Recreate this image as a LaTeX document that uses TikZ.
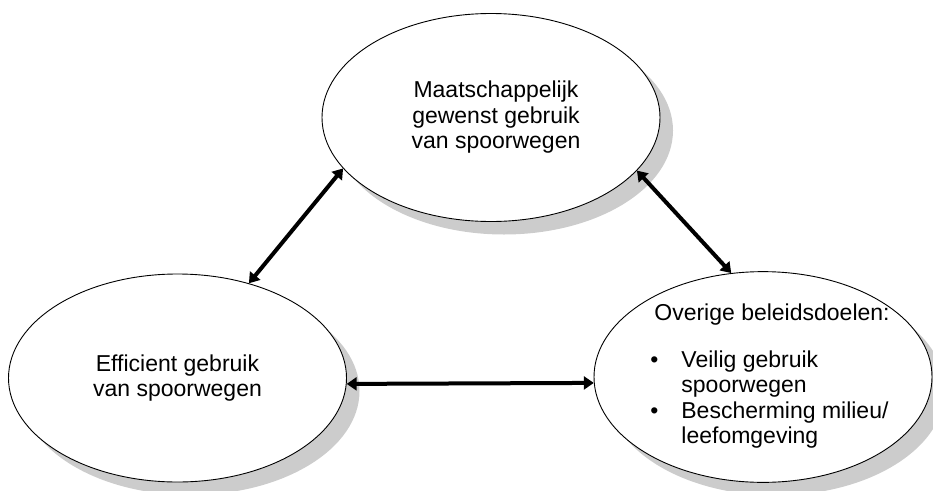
\documentclass[tikz,border=0pt]{standalone}
\usepackage{fontspec}
\setmainfont{Liberation Sans}
\usepackage{xcolor}
\usepackage{tikz}
\usetikzlibrary{arrows.meta,shapes.geometric,shadows}
\definecolor{spShadow}{HTML}{CCCCCC}
\definecolor{spLine}{HTML}{000000}
\tikzset{
  goalellipse/.style={ellipse,draw=spLine,fill=white,line width=0.9pt,
    minimum width=338pt,minimum height=208pt,inner sep=0pt,align=center,
    font=\fontsize{23}{25.5}\selectfont,
    drop shadow={shadow xshift=13pt,shadow yshift=-13pt,fill=spShadow,opacity=1}},
  link/.style={{Triangle[length=10pt,width=13pt]}-{Triangle[length=10pt,width=13pt]},
    line width=4pt,draw=spLine}
}

\begin{document}
\begin{tikzpicture}[x=1pt,y=-1pt]
  \useasboundingbox (0,0) rectangle (933,490);
  \node[goalellipse] (maat) at (491,117.5) {\hspace*{10pt}Maatschappelijk\\\hspace*{10pt}gewenst gebruik\\\hspace*{10pt}van spoorwegen};
  \node[goalellipse] (eff) at (177.5,378) {Efficient gebruik\\van spoorwegen};
  \node[goalellipse,inner xsep=-14pt] (ovr) at (763,377) {\hspace*{14pt}\begin{tabular}{@{}l@{\hspace{23pt}}l@{}}
      \multicolumn{2}{@{\hspace{4pt}}l@{}}{Overige beleidsdoelen:}\\[21.5pt]
      \textbullet & Veilig gebruik\\
                  & spoorwegen\\
      \textbullet & Bescherming milieu/\\
                  & leefomgeving
    \end{tabular}};
  \draw[link] (eff.53.7) -- (maat.199.2);
  \draw[link] (maat.340.2) -- (ovr.107.4);
  \draw[link] (eff.-2) -- (ovr.182.4);
\end{tikzpicture}
\end{document}
